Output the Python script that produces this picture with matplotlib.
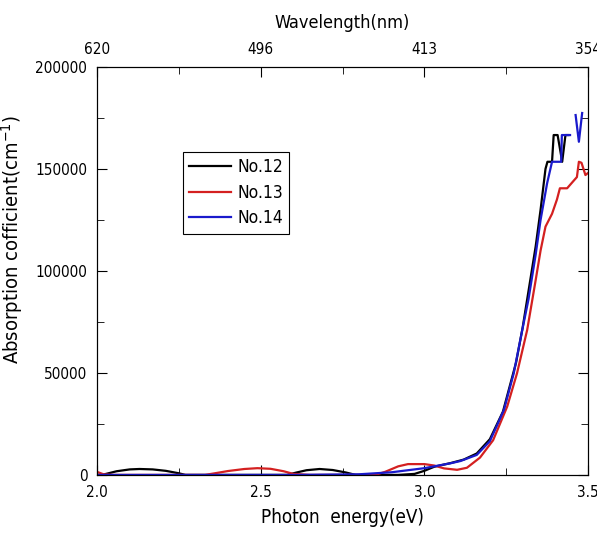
import numpy as np
import matplotlib.pyplot as plt
from matplotlib.ticker import MultipleLocator

plt.rcParams['font.family'] = ['DejaVu Sans']
plt.rcParams['font.stretch'] = 'condensed'

# photon energy (eV) and absorption coefficient (cm^-1)
e12 = [2.00, 2.02, 2.06, 2.10, 2.13, 2.17, 2.21, 2.25, 2.27, 2.30, 2.40, 2.50, 2.58,
       2.61, 2.64, 2.68, 2.72, 2.76, 2.79, 2.85, 2.92, 2.97, 3.00, 3.03, 3.08, 3.12,
       3.16, 3.20, 3.24, 3.28, 3.30, 3.32, 3.34, 3.355, 3.37, 3.376, 3.39, 3.395,
       3.407, 3.421, 3.431, 3.44]
a12 = [0, 200, 1800, 2700, 2900, 2700, 2000, 800, 0, 0, 0, 0, 0,
       1200, 2300, 2900, 2400, 1200, 0, 0, 0, 500, 2000, 4000, 5800, 7500,
       10500, 17500, 31000, 55000, 72000, 92000, 112000, 130000, 150000, 153500, 153500, 166600,
       166600, 153500, 166600, 166600]

e13 = [2.00, 2.02, 2.05, 2.33, 2.36, 2.40, 2.45, 2.49, 2.53, 2.57, 2.60, 2.65, 2.85,
       2.88, 2.92, 2.95, 3.00, 3.03, 3.06, 3.10, 3.13, 3.17, 3.21, 3.253, 3.283, 3.314,
       3.34, 3.355, 3.37, 3.39, 3.405, 3.414, 3.436, 3.455, 3.466, 3.472, 3.48, 3.492, 3.50]
a13 = [1500, 300, 0, 0, 800, 1900, 2900, 3300, 3000, 1800, 500, 0, 0,
       1500, 4200, 5300, 5300, 4600, 3200, 2500, 3500, 8500, 17000, 33500, 49800, 71000,
       95500, 110000, 121700, 128000, 135000, 140500, 140500, 144000, 146000, 153500, 153000, 147000, 148000]

e14 = [2.00, 2.30, 2.60, 2.80, 2.90, 3.00, 3.08, 3.11, 3.16, 3.20, 3.243, 3.273, 3.299,
       3.318, 3.34, 3.355, 3.375, 3.39, 3.418, 3.420, 3.445, np.nan, 3.462, 3.472, 3.482]
a14 = [0, 0, 0, 300, 1300, 3300, 5700, 6800, 9800, 16500, 31850, 49800, 71000,
       86000, 108000, 125000, 143000, 153500, 153500, 166600, 166600, np.nan, 176400, 163300, 177400]

wl_ticks = [2.0, 2.5, 3.0, 3.5]
wl_labels = ['620', '496', '413', '354']

fig = plt.figure(figsize=(5.97, 5.44), dpi=100)
ax = fig.add_axes([0.1625, 0.127, 0.8225, 0.75])

ax.plot(e12, a12, color='black', lw=1.6, label='No.12')
ax.plot(e13, a13, color='#d42020', lw=1.6, label='No.13')
ax.plot(e14, a14, color='#1a1acc', lw=1.6, label='No.14')

ax.set_xlim(2.0, 3.5)
ax.set_ylim(0, 200000)
ax.xaxis.set_major_locator(MultipleLocator(0.5))
ax.xaxis.set_minor_locator(MultipleLocator(0.25))
ax.yaxis.set_major_locator(MultipleLocator(50000))
ax.yaxis.set_minor_locator(MultipleLocator(25000))
ax.xaxis.set_major_formatter(plt.FormatStrFormatter('%.1f'))
ax.tick_params(which='both', direction='in', right=True, labelsize=11, pad=7)
ax.tick_params(which='major', length=7)
ax.tick_params(which='minor', length=5)
ax.set_xlabel('Photon  energy(eV)', fontsize=13.5, labelpad=6)
ax.set_ylabel('Absorption cofficient(cm$^{-1}$)', fontsize=14.5)
ax.yaxis.set_label_coords(-0.147, 0.576)

top = ax.twiny()
top.set_xlim(ax.get_xlim())
top.set_xticks(wl_ticks)
top.set_xticklabels(wl_labels)
top.xaxis.set_minor_locator(MultipleLocator(0.25))
top.tick_params(which='both', direction='in', labelsize=11, pad=7)
top.tick_params(which='major', length=7)
top.tick_params(which='minor', length=5)
top.set_xlabel('Wavelength(nm)', fontsize=13, labelpad=10)

leg = ax.legend(loc='upper left', bbox_to_anchor=(0.175, 0.792), fontsize=12.5,
                fancybox=False, edgecolor='black', framealpha=1, handlelength=2.4,
                handletextpad=0.4, borderpad=0.35, labelspacing=0.45, borderaxespad=0)
leg.get_frame().set_linewidth(0.8)

fig.savefig('out.png', dpi=100)
